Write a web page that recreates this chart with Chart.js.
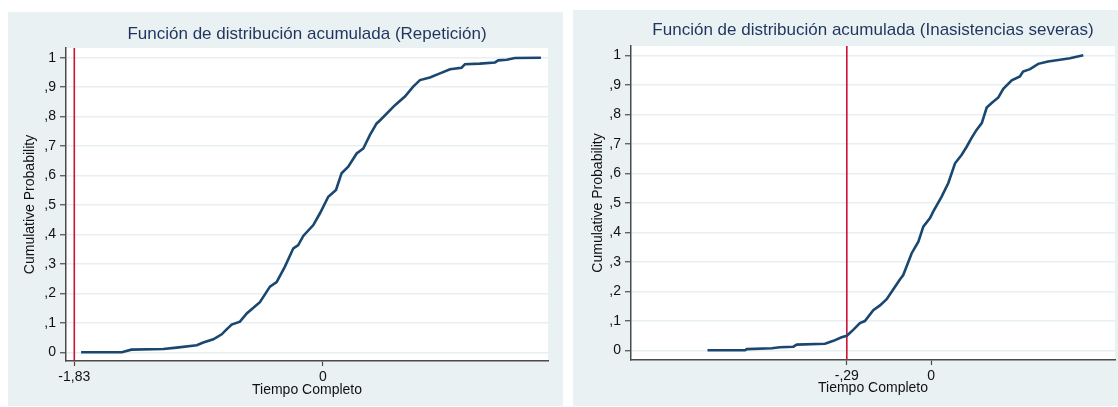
<!DOCTYPE html>
<html>
<head>
<meta charset="utf-8">
<script src="https://cdn.jsdelivr.net/npm/chart.js@4.4.1/dist/chart.umd.min.js"></script>
<style>
  html, body { margin: 0; padding: 0; background: #ffffff; width: 1118px; height: 407px; overflow: hidden; }
  .panel { position: absolute; background: #eaf1f3; }
  #p1 { left: 8px; top: 12px; width: 555px; height: 394px; }
  #p2 { left: 573px; top: 10px; width: 545px; height: 396px; }
</style>
</head>
<body>
<div class="panel" id="p1"><canvas id="c1"></canvas></div>
<div class="panel" id="p2"><canvas id="c2"></canvas></div>
<script>
// ---------- DATA ----------
const titleRep = 'Función de distribución acumulada (Repetición)';
const titleIna = 'Función de distribución acumulada (Inasistencias severas)';
const xAxisTitle = 'Tiempo Completo';
const yAxisTitle = 'Cumulative Probability';

const yTicks = [0, 0.1, 0.2, 0.3, 0.4, 0.5, 0.6, 0.7, 0.8, 0.9, 1];
const yTickLabels = ['0', ',1', ',2', ',3', ',4', ',5', ',6', ',7', ',8', ',9', '1'];

const cutRep = -1.83;
const xTicksRep = [-1.83, 0];
const xTickLabelsRep = ['-1,83', '0'];
const xRep = [-1.78, -1.48, -1.41, -1.175, -1.077, -0.929, -0.881, -0.807, -0.745, -0.709,
  -0.672, -0.611, -0.561, -0.525, -0.464, -0.414, -0.39, -0.341, -0.28, -0.218,
  -0.182, -0.145, -0.071, -0.022, 0.039, 0.096, 0.137, 0.186, 0.248, 0.297,
  0.346, 0.395, 0.419, 0.530, 0.603, 0.664, 0.714, 0.787, 0.861, 0.935,
  1.02, 1.045, 1.155, 1.266, 1.29, 1.352, 1.413, 1.604];
const pRep = [0, 0, 0.009, 0.011, 0.016, 0.024, 0.033, 0.044, 0.061, 0.078,
  0.094, 0.104, 0.132, 0.146, 0.17, 0.206, 0.223, 0.238, 0.291, 0.353,
  0.364, 0.395, 0.432, 0.472, 0.528, 0.551, 0.608, 0.630, 0.675, 0.692,
  0.738, 0.777, 0.787, 0.839, 0.868, 0.902, 0.924, 0.933, 0.947, 0.961,
  0.966, 0.978, 0.980, 0.984, 0.991, 0.993, 0.999, 1.0];

const cutIna = -0.29;
const xTicksIna = [-0.29, 0];
const xTickLabelsIna = ['-,29', '0'];
const xIna = [-0.769, -0.64, -0.634, -0.548, -0.52, -0.474, -0.462, -0.365, -0.336, -0.308,
  -0.29, -0.268, -0.245, -0.228, -0.199, -0.176, -0.153, -0.130, -0.107, -0.096,
  -0.067, -0.044, -0.027, -0.004, 0.007, 0.036, 0.059, 0.082, 0.105, 0.122,
  0.139, 0.156, 0.174, 0.191, 0.208, 0.231, 0.248, 0.277, 0.305, 0.316,
  0.340, 0.368, 0.402, 0.443, 0.477, 0.523];
const pIna = [0, 0, 0.004, 0.007, 0.010, 0.012, 0.019, 0.022, 0.032, 0.044,
  0.049, 0.069, 0.092, 0.099, 0.136, 0.152, 0.173, 0.207, 0.241, 0.255,
  0.329, 0.368, 0.419, 0.448, 0.470, 0.521, 0.567, 0.634, 0.663, 0.690,
  0.720, 0.747, 0.770, 0.823, 0.838, 0.857, 0.886, 0.915, 0.928, 0.945,
  0.953, 0.971, 0.979, 0.985, 0.990, 1.0];

// ---------- STYLE ----------
Chart.defaults.font.family = "'Liberation Sans', Arial, Helvetica, sans-serif";
Chart.defaults.color = '#000000';
const lineColor = '#1a476f';
const cutColor = '#cc1236';
const axisColor = '#4a4a4a';
const gridColor = '#e8eff1';
const titleColor = '#1f355e';

const plotBg = {
  id: 'plotBg',
  beforeDraw(chart) {
    const a = chart.chartArea, ctx = chart.ctx;
    ctx.save(); ctx.fillStyle = '#ffffff';
    ctx.fillRect(a.left, a.top, a.right - a.left, a.bottom - a.top);
    ctx.restore();
  }
};
const areaTitle = {
  id: 'areaTitle',
  afterDraw(chart, args, opts) {
    const a = chart.chartArea, ctx = chart.ctx;
    ctx.save();
    ctx.font = "17px 'Liberation Sans', Arial, sans-serif";
    ctx.fillStyle = titleColor;
    ctx.textAlign = 'center';
    ctx.textBaseline = 'alphabetic';
    ctx.fillText(opts.text, (a.left + a.right) / 2, opts.baseline);
    ctx.restore();
  }
};

function makeChart(id, cfg) {
  const pts = cfg.xs.map((x, i) => ({ x: x, y: cfg.ps[i] }));
  return new Chart(document.getElementById(id), {
    type: 'line',
    data: {
      datasets: [
        { data: pts, borderColor: lineColor, borderWidth: 2.6, pointRadius: 0, tension: 0, fill: false },
        { data: [{ x: cfg.cut, y: cfg.yMin }, { x: cfg.cut, y: cfg.yMax }], borderColor: cutColor, borderWidth: 1.6, pointRadius: 0, fill: false }
      ]
    },
    plugins: [plotBg, areaTitle],
    options: {
      responsive: true, maintainAspectRatio: false, animation: false,
      layout: { padding: { top: cfg.padTop, right: cfg.padRight, left: 0, bottom: 0 } },
      plugins: { legend: { display: false }, tooltip: { enabled: false }, title: { display: false },
        areaTitle: { text: cfg.title, baseline: cfg.titleBaseline } },
      scales: {
        x: {
          type: 'linear', min: cfg.xMin, max: cfg.xMax,
          afterBuildTicks: s => { s.ticks = cfg.xTicks.map(v => ({ value: v })); },
          afterFit: s => { s.height = cfg.xHeight; },
          ticks: { callback: (v, i) => cfg.xLabels[i], font: { size: 14 }, color: '#111', padding: 3, maxRotation: 0, autoSkip: false },
          grid: { drawOnChartArea: false, drawTicks: true, tickLength: 5, tickColor: axisColor, tickWidth: 1.2 },
          border: { display: true, color: axisColor, width: 1.5 },
          title: { display: true, text: xAxisTitle, font: { size: 14 }, color: '#111', padding: { top: 0, bottom: cfg.xTitlePad } }
        },
        y: {
          type: 'linear', min: cfg.yMin, max: cfg.yMax,
          afterBuildTicks: s => { s.ticks = yTicks.map(v => ({ value: v })); },
          afterFit: s => { s.width = 58; },
          ticks: { callback: (v, i) => yTickLabels[i], font: { size: 14 }, color: '#111', padding: 4, autoSkip: false },
          grid: { color: gridColor, lineWidth: 1.5, drawTicks: true, tickLength: 6, tickColor: axisColor, tickWidth: 1.2 },
          border: { display: true, color: axisColor, width: 1.5 },
          title: { display: true, text: yAxisTitle, font: { size: 14 }, color: '#111', padding: { top: cfg.yTitlePad, bottom: 0 } }
        }
      }
    }
  });
}

makeChart('c1', {
  xs: xRep, ps: pRep, cut: cutRep, xTicks: xTicksRep, xLabels: xTickLabelsRep,
  xMin: -1.891, xMax: 1.656, yMin: -0.0295, yMax: 1.033,
  padTop: 36, padRight: 15, xHeight: 45, xTitlePad: 7, yTitlePad: 13.6,
  title: titleRep, titleBaseline: 27.3
});
makeChart('c2', {
  xs: xIna, ps: pIna, cut: cutIna, xTicks: xTicksIna, xLabels: xTickLabelsIna,
  xMin: -1.032, xMax: 0.632, yMin: -0.033, yMax: 1.0315,
  padTop: 36, padRight: 3, xHeight: 46, xTitlePad: 9.6, yTitlePad: 16.6,
  title: titleIna, titleBaseline: 25
});
</script>
</body>
</html>
